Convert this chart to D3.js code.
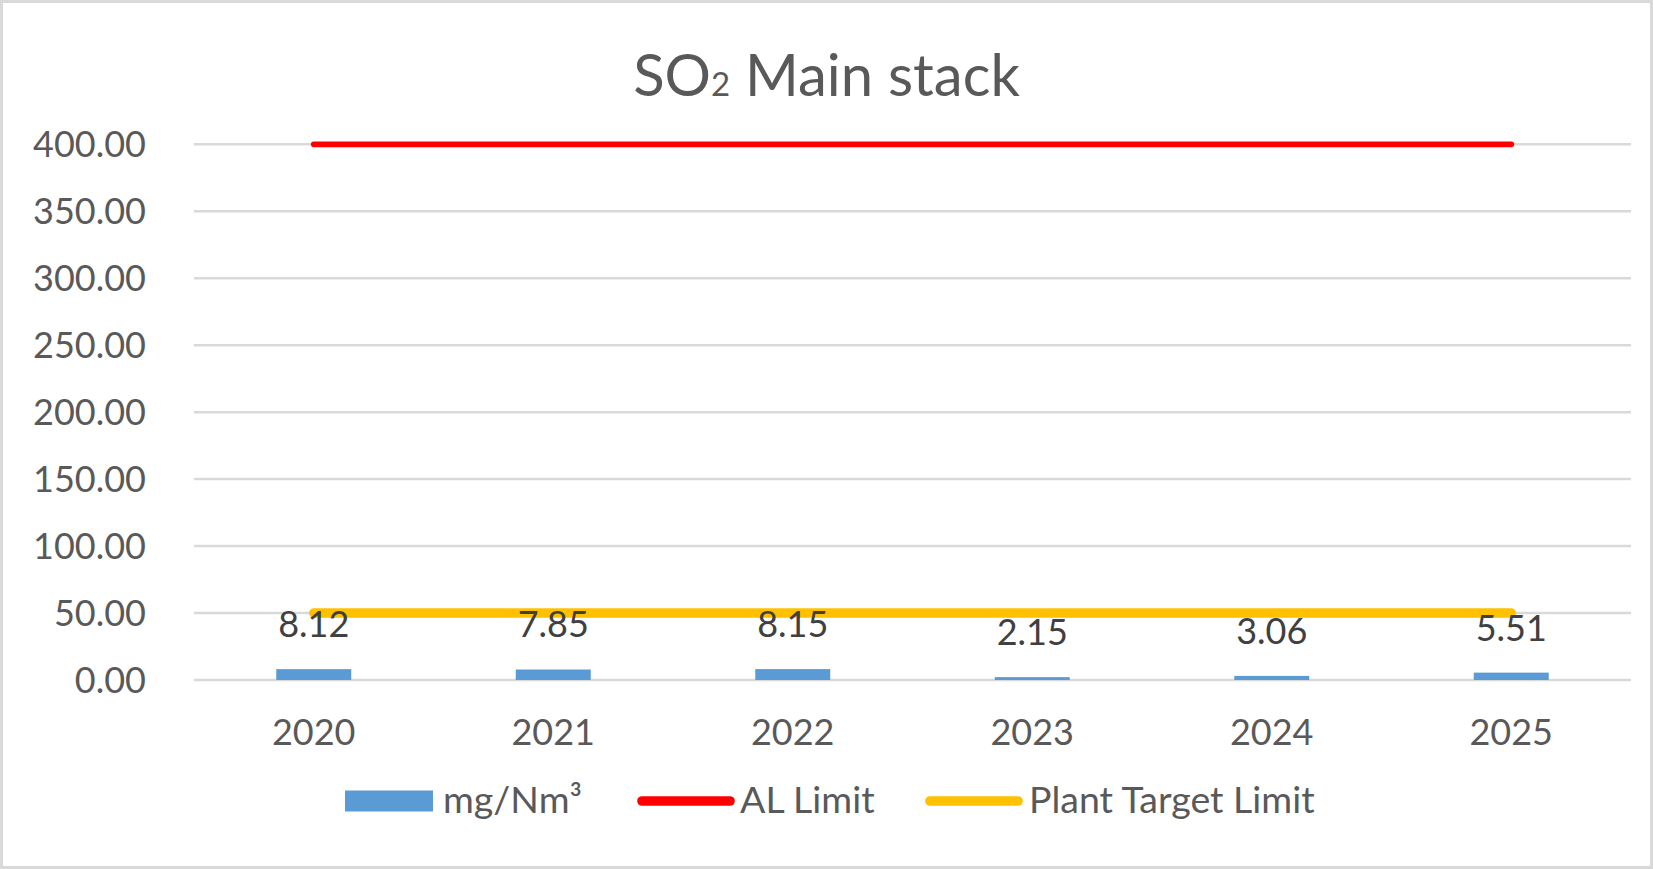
<!DOCTYPE html>
<html>
<head>
<meta charset="utf-8">
<script src="https://cdn.jsdelivr.net/npm/d3@7"></script>
<style>
  html, body { margin: 0; padding: 0; background: #fff; }
  svg { display: block; }
  text { font-family: Lato, "Open Sans", sans-serif; }
</style>
</head>
<body>
<script>
// ---- data ----
const years = ["2020", "2021", "2022", "2023", "2024", "2025"];
const so2Values = [8.12, 7.85, 8.15, 2.15, 3.06, 5.51];
const alLimit = [400, 400, 400, 400, 400, 400];
const plantTarget = [50, 50, 50, 50, 50, 50];
const yTicks = [0, 50, 100, 150, 200, 250, 300, 350, 400];
const seriesNames = ["mg/Nm³", "AL Limit", "Plant Target Limit"];

// ---- layout ----
const W = 1653, H = 869;
const plot = { left: 194, right: 1631, top: 144.3, bottom: 680 };
const colors = { bar: "#5b9bd5", al: "#ff0000", target: "#ffc000", text: "#595959", label: "#404040", grid: "#d9d9d9" };

const svg = d3.select("body").append("svg").attr("width", W).attr("height", H);
svg.append("rect").attr("x", 1.5).attr("y", 1.5).attr("width", W - 3).attr("height", H - 3)
  .attr("fill", "#fff").attr("stroke", colors.grid).attr("stroke-width", 3);

const x = d3.scaleBand().domain(years).range([plot.left, plot.right]).paddingInner(0).paddingOuter(0);
const y = d3.scaleLinear().domain([0, 400]).range([plot.bottom, plot.top]);
const barW = 75;

// title
const title = svg.append("text").attr("x", W / 2).attr("y", 95.7).attr("text-anchor", "middle")
  .attr("fill", colors.text).attr("font-size", 58);
title.append("tspan").text("SO");
title.append("tspan").attr("font-size", 33).text("2");
title.append("tspan").text(" Main stack");

// gridlines
svg.append("g").selectAll("line").data(yTicks).join("line")
  .attr("x1", plot.left).attr("x2", plot.right)
  .attr("y1", d => y(d)).attr("y2", d => y(d))
  .attr("stroke", colors.grid).attr("stroke-width", 2.5);

// y axis labels
const yAxis = d3.axisLeft(y).tickValues(yTicks).tickFormat(d3.format(".2f")).tickSize(0).tickPadding(0);
const gy = svg.append("g").attr("transform", `translate(146,0)`).call(yAxis);
gy.select(".domain").remove();
gy.selectAll("text").attr("font-size", 36).attr("fill", colors.text)
  .attr("font-family", "Lato, 'Open Sans', sans-serif").attr("dy", 12);

// x axis labels
const xAxis = d3.axisBottom(x).tickSize(0).tickPadding(0);
const gx = svg.append("g").attr("transform", `translate(0,745)`).call(xAxis);
gx.select(".domain").remove();
gx.selectAll("text").attr("font-size", 36).attr("fill", colors.text)
  .attr("font-family", "Lato, 'Open Sans', sans-serif").attr("dy", 0).attr("y", 0);

const cx = d => x(d) + x.bandwidth() / 2;

// bars
svg.append("g").selectAll("rect").data(years).join("rect")
  .attr("x", d => cx(d) - barW / 2)
  .attr("width", barW)
  .attr("y", (d, i) => y(so2Values[i]))
  .attr("height", (d, i) => y(0) - y(so2Values[i]))
  .attr("fill", colors.bar);

// lines
const line = d3.line().x(d => cx(d[0])).y(d => y(d[1]));
svg.append("path").datum(years.map((d, i) => [d, plantTarget[i]])).attr("d", line)
  .attr("fill", "none").attr("stroke", colors.target).attr("stroke-width", 9.5).attr("stroke-linecap", "round");
svg.append("path").datum(years.map((d, i) => [d, alLimit[i]])).attr("d", line)
  .attr("fill", "none").attr("stroke", colors.al).attr("stroke-width", 5.7).attr("stroke-linecap", "round");

// data labels
svg.append("g").selectAll("text").data(years).join("text")
  .attr("x", d => cx(d))
  .attr("y", (d, i) => y(so2Values[i]) - 32)
  .attr("text-anchor", "middle").attr("font-size", 36).attr("fill", colors.label)
  .text((d, i) => so2Values[i].toFixed(2));

// legend
const lg = svg.append("g");
const lfs = 37.5;
lg.append("rect").attr("x", 345).attr("y", 790.5).attr("width", 88).attr("height", 21).attr("fill", colors.bar);
lg.append("text").attr("x", 443).attr("y", 812.7).attr("font-size", lfs).attr("fill", colors.text).text(seriesNames[0]);
lg.append("line").attr("x1", 642).attr("x2", 730).attr("y1", 801).attr("y2", 801)
  .attr("stroke", colors.al).attr("stroke-width", 9.7).attr("stroke-linecap", "round");
lg.append("text").attr("x", 740).attr("y", 812.7).attr("font-size", lfs).attr("fill", colors.text).text(seriesNames[1]);
lg.append("line").attr("x1", 930).attr("x2", 1018).attr("y1", 801).attr("y2", 801)
  .attr("stroke", colors.target).attr("stroke-width", 9.7).attr("stroke-linecap", "round");
lg.append("text").attr("x", 1029).attr("y", 812.7).attr("font-size", lfs).attr("fill", colors.text).text(seriesNames[2]);
</script>
</body>
</html>
